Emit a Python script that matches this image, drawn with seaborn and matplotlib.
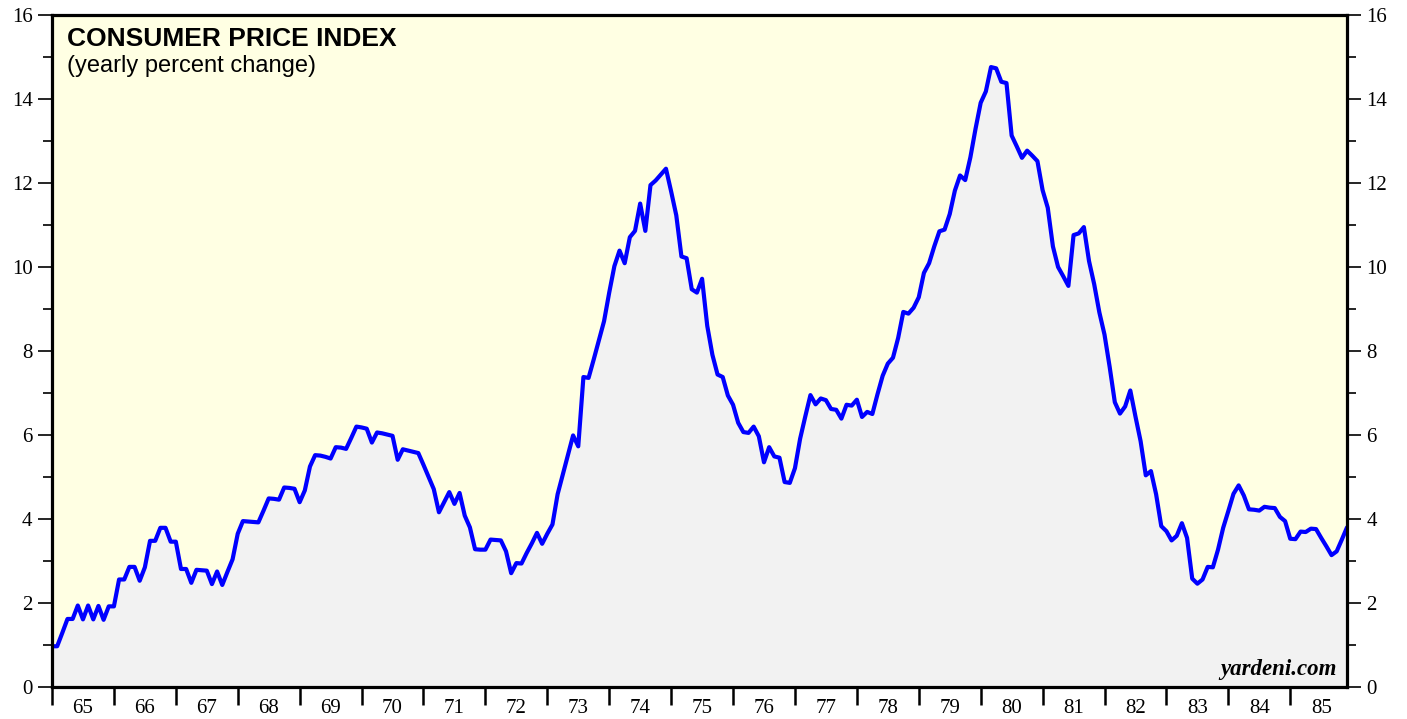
import numpy as np
import pandas as pd
import matplotlib
matplotlib.use("Agg")
import matplotlib.pyplot as plt
import seaborn as sns

# ---- data: CPI yearly percent change, monthly Jan 1965 - Dec 1985 ----
years = list(range(1965, 1986))
year_labels = ["65", "66", "67", "68", "69", "70", "71", "72", "73", "74",
               "75", "76", "77", "78", "79", "80", "81", "82", "83", "84", "85"]

cpi_1965 = [0.97, 0.97, 1.29, 1.62, 1.62, 1.94, 1.61, 1.94, 1.61, 1.93, 1.60, 1.92]
cpi_1966 = [1.92, 2.56, 2.56, 2.86, 2.86, 2.53, 2.85, 3.48, 3.48, 3.79, 3.79, 3.46]
cpi_1967 = [3.46, 2.81, 2.81, 2.48, 2.79, 2.78, 2.77, 2.45, 2.75, 2.43, 2.74, 3.04]
cpi_1968 = [3.65, 3.95, 3.94, 3.93, 3.92, 4.20, 4.49, 4.48, 4.46, 4.75, 4.74, 4.72]
cpi_1969 = [4.40, 4.68, 5.25, 5.52, 5.51, 5.48, 5.44, 5.71, 5.70, 5.67, 5.93, 6.20]
cpi_1970 = [6.18, 6.15, 5.82, 6.06, 6.04, 6.01, 5.98, 5.41, 5.66, 5.63, 5.60, 5.57]
cpi_1971 = [5.29, 5.00, 4.71, 4.16, 4.40, 4.64, 4.36, 4.62, 4.08, 3.80, 3.28, 3.27]
cpi_1972 = [3.27, 3.51, 3.50, 3.49, 3.23, 2.71, 2.95, 2.94, 3.19, 3.42, 3.67, 3.41]
cpi_1973 = [3.65, 3.87, 4.59, 5.06, 5.53, 5.99, 5.73, 7.38, 7.36, 7.80, 8.25, 8.71]
cpi_1974 = [9.39, 10.02, 10.39, 10.09, 10.71, 10.86, 11.51, 10.86, 11.95, 12.06, 12.20, 12.34]
cpi_1975 = [11.80, 11.23, 10.25, 10.21, 9.47, 9.39, 9.72, 8.60, 7.91, 7.44, 7.38, 6.94]
cpi_1976 = [6.72, 6.29, 6.07, 6.05, 6.20, 5.97, 5.35, 5.71, 5.49, 5.46, 4.88, 4.86]
cpi_1977 = [5.21, 5.91, 6.44, 6.95, 6.73, 6.87, 6.83, 6.62, 6.60, 6.39, 6.72, 6.70]
cpi_1978 = [6.84, 6.43, 6.55, 6.50, 6.97, 7.41, 7.70, 7.84, 8.31, 8.93, 8.89, 9.03]
cpi_1979 = [9.28, 9.86, 10.09, 10.49, 10.85, 10.89, 11.26, 11.82, 12.18, 12.07, 12.61, 13.29]
cpi_1980 = [13.91, 14.18, 14.76, 14.73, 14.41, 14.38, 13.13, 12.87, 12.60, 12.77, 12.65, 12.52]
cpi_1981 = [11.83, 11.41, 10.49, 10.00, 9.78, 9.55, 10.76, 10.80, 10.95, 10.14, 9.59, 8.92]
cpi_1982 = [8.39, 7.62, 6.78, 6.51, 6.68, 7.06, 6.44, 5.85, 5.04, 5.14, 4.59, 3.83]
cpi_1983 = [3.71, 3.49, 3.60, 3.90, 3.55, 2.58, 2.46, 2.56, 2.86, 2.85, 3.27, 3.79]
cpi_1984 = [4.19, 4.60, 4.80, 4.56, 4.23, 4.22, 4.20, 4.29, 4.27, 4.26, 4.05, 3.95]
cpi_1985 = [3.53, 3.52, 3.70, 3.69, 3.77, 3.76, 3.55, 3.35, 3.14, 3.23, 3.51, 3.80]

cpi = (cpi_1965 + cpi_1966 + cpi_1967 + cpi_1968 + cpi_1969 + cpi_1970 + cpi_1971 +
       cpi_1972 + cpi_1973 + cpi_1974 + cpi_1975 + cpi_1976 + cpi_1977 + cpi_1978 +
       cpi_1979 + cpi_1980 + cpi_1981 + cpi_1982 + cpi_1983 + cpi_1984 + cpi_1985)

y_major = [0, 2, 4, 6, 8, 10, 12, 14, 16]
y_minor = [1, 3, 5, 7, 9, 11, 13, 15]

df = pd.DataFrame({"month": np.arange(len(cpi)), "cpi": cpi})

# ---- style ----
sns.set_style("ticks")
plt.rcParams["font.family"] = ["Liberation Serif", "DejaVu Serif"]
plt.rcParams["text.color"] = "black"
plt.rcParams["xtick.color"] = "black"
plt.rcParams["ytick.color"] = "black"
plt.rcParams["xtick.labelcolor"] = "black"
plt.rcParams["ytick.labelcolor"] = "black"

W, H = 1407, 719
L, R, T, B = 52, 1347, 15, 687
fig = plt.figure(figsize=(W / 100, H / 100), dpi=100)
ax = fig.add_axes([L / W, (H - B) / H, (R - L) / W, (B - T) / H])
ax.set_facecolor("#FFFFE3")

ax.fill_between(df["month"], 0, df["cpi"], color="#F2F2F2", zorder=1, linewidth=0)
sns.lineplot(data=df, x="month", y="cpi", ax=ax, color="#0000FF", linewidth=3.0, zorder=3)

ax.set_xlim(0, len(cpi) - 1)
ax.set_ylim(0, 16)
ax.set_xlabel("")
ax.set_ylabel("")

# x: year boundary ticks (no labels), labels centred at mid-year
ax.set_xticks([12 * i for i in range(len(years))])
ax.set_xticklabels([])
ax.set_xticks([12 * i + 6 for i in range(len(years))], minor=True)
ax.set_xticklabels(year_labels, minor=True)
ax.tick_params(axis="x", which="major", direction="out", length=13, width=1.8, color="black")
ax.tick_params(axis="x", which="minor", length=0, pad=8.5, labelsize=15)

# y: left and right
ax.set_yticks(y_major)
ax.set_yticks(y_minor, minor=True)
ax.tick_params(axis="y", which="major", direction="out", length=10, width=1.2,
               left=True, right=True, labelleft=True, labelright=True, labelsize=15, pad=4)
ax.tick_params(axis="y", which="minor", direction="out", length=6.5, width=1.2,
               left=True, right=True)

for s in ax.spines.values():
    s.set_visible(True)
    s.set_linewidth(2.3)
    s.set_color("black")
    s.set_zorder(5)

# texts
ph = B - T
pw = R - L
ax.text(15 / pw, 1 - 31 / ph, "CONSUMER PRICE INDEX", transform=ax.transAxes,
        family=["Liberation Sans", "DejaVu Sans"], fontweight="bold", fontsize=19,
        color="black", va="baseline", ha="left", zorder=6)
ax.text(15 / pw, 1 - 57 / ph, "(yearly percent change)", transform=ax.transAxes,
        family=["Liberation Sans", "DejaVu Sans"], fontsize=17,
        color="black", va="baseline", ha="left", zorder=6)
ax.text(1 - 10 / pw, 12 / ph, "yardeni.com", transform=ax.transAxes,
        family=["Liberation Serif", "DejaVu Serif"], fontweight="bold", style="italic",
        fontsize=16.5, color="black", va="baseline", ha="right", zorder=6)

fig.savefig("out.png", dpi=100)
